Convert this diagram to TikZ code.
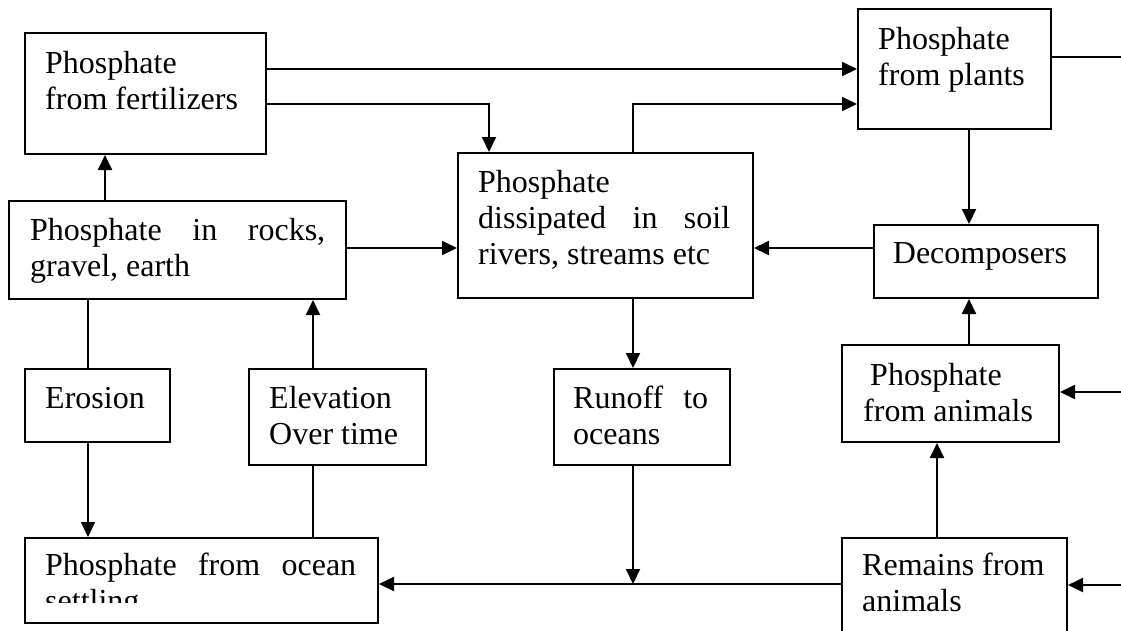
\documentclass[tikz,border=0pt]{standalone}
\usepackage{fontspec}
\setmainfont{Liberation Serif}
\usetikzlibrary{arrows.meta}
\tikzset{
  box/.style={draw, line width=2pt, inner sep=0pt, anchor=north west},
  txt/.style={inner sep=0pt, anchor=base west, font=\fontsize{32}{36}\selectfont},
  conn/.style={line width=2pt},
  arr/.style={line width=2pt, -{Triangle[length=15pt,width=14pt]}}
}
\newcommand{\jl}[2]{\leavevmode\hbox to #1{#2}}
\begin{document}
\begin{tikzpicture}[x=1pt,y=-1pt]
\useasboundingbox (0,0) rectangle (1121,630);
\clip (0,0) rectangle (1121,630);
\fill[white] (0,0) rectangle (1121,630);
% boxes
\node[box, minimum width=241pt, minimum height=121pt] (fert) at (24,32) {};
\node[box, minimum width=337pt, minimum height=98pt] (rocks) at (8,200) {};
\node[box, minimum width=295pt, minimum height=145pt] (diss) at (457,152) {};
\node[box, minimum width=193pt, minimum height=120pt] (plants) at (857,8) {};
\node[box, minimum width=224pt, minimum height=73pt] (decomp) at (873,224) {};
\node[box, minimum width=217pt, minimum height=97pt] (animals) at (841,344) {};
\node[box, minimum width=225pt, minimum height=120pt] (remains) at (841,537) {};
\node[box, minimum width=145pt, minimum height=73pt] (erosion) at (24,368) {};
\node[box, minimum width=177pt, minimum height=96pt] (elev) at (248,368) {};
\node[box, minimum width=176pt, minimum height=96pt] (runoff) at (553,368) {};
\node[box, minimum width=353pt, minimum height=85pt] (settle) at (24,537) {};
% texts
\node[txt] (fert-t) at (45,73) {\parbox[t]{240pt}{Phosphate\\from fertilizers}};
\node[txt] (rocks-t) at (30,240) {\parbox[t]{295pt}{\jl{295pt}{Phosphate\hfill in\hfill rocks,}\\gravel, earth}};
\node[txt] (diss-t) at (478,192) {\parbox[t]{252pt}{Phosphate\\\jl{252pt}{dissipated\hfill in\hfill soil}\\rivers, streams etc}};
\node[txt] (plants-t) at (878,49) {\parbox[t]{170pt}{Phosphate\\from plants}};
\node[txt, anchor=base] (decomp-t) at (980,263) {Decomposers};
\node[txt] (animals-t) at (863,385) {\parbox[t]{190pt}{\hspace*{7pt}Phosphate\\from animals}};
\node[txt] (remains-t) at (862,575) {\parbox[t]{200pt}{Remains from\\animals}};
\node[txt] (erosion-t) at (45,408) {Erosion};
\node[txt] (elev-t) at (269,408) {\parbox[t]{150pt}{Elevation\\Over time}};
\node[txt] (runoff-t) at (573,408) {\parbox[t]{135pt}{\jl{135pt}{Runoff\hfill to}\\oceans}};
\begin{scope}
\clip (24,537) rectangle (377,602);
\node[txt] (settle-t) at (45,575) {\parbox[t]{311pt}{\jl{311pt}{Phosphate\hfill from\hfill ocean}\\settling}};
\end{scope}
% free ends
\coordinate (rplants) at (1121,57);
\coordinate (ranimals) at (1121,392);
\coordinate (rremains) at (1121,585);
\coordinate (join) at (633,584);
% connectors
\draw[arr] (fert.east |- 0,69) -- (plants.west |- 0,69);
\draw[arr] (fert.east |- 0,104) -- (489,104) -- (489,0 |- diss.north);
\draw[arr] (rocks.north -| 105,0) -- (fert.south -| 105,0);
\draw[arr] (rocks.east |- 0,248) -- (diss.west |- 0,248);
\draw[arr] (diss.north -| 633,0) -- (633,104) -- (plants.west |- 0,104);
\draw[conn] (plants.east |- rplants) -- (rplants);
\draw[arr] (plants.south -| 969,0) -- (decomp.north -| 969,0);
\draw[arr] (decomp.west |- 0,248) -- (diss.east |- 0,248);
\draw[arr] (animals.north -| 969,0) -- (decomp.south -| 969,0);
\draw[arr] (ranimals) -- (animals.east |- ranimals);
\draw[arr] (remains.north -| 937,0) -- (animals.south -| 937,0);
\draw[arr] (rremains) -- (remains.east |- rremains);
\draw[arr] (remains.west |- join) -- (settle.east |- join);
\draw[arr] (diss.south -| 633,0) -- (runoff.north -| 633,0);
\draw[arr] (runoff.south -| 633,0) -- (join);
\draw[conn] (rocks.south -| 88,0) -- (erosion.north -| 88,0);
\draw[arr] (erosion.south -| 88,0) -- (settle.north -| 88,0);
\draw[conn] (settle.north -| 313,0) -- (elev.south -| 313,0);
\draw[arr] (elev.north -| 313,0) -- (rocks.south -| 313,0);
\end{tikzpicture}
\end{document}
